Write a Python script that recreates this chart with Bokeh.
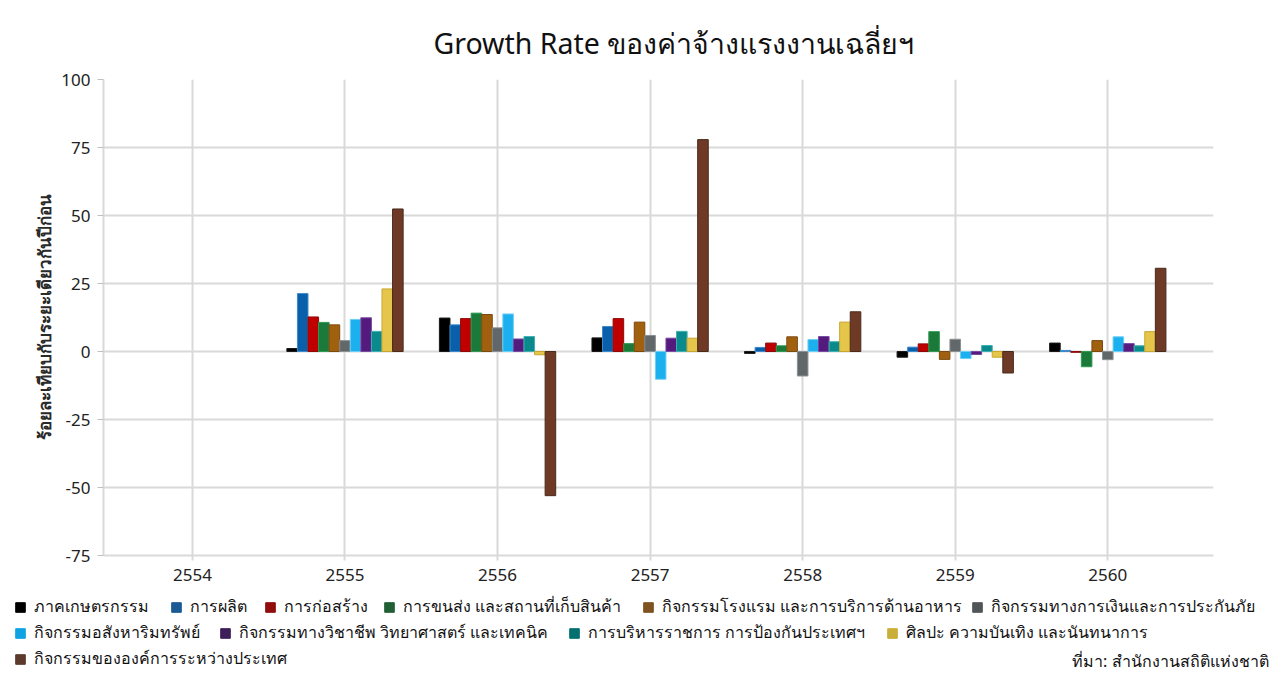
from bokeh.plotting import figure
from bokeh.models import (ColumnDataSource, FixedTicker, Legend, LegendItem,
                          Label, Range1d, Title)
from bokeh.transform import dodge
from bokeh.embed import file_html
from bokeh.resources import INLINE

nan = float("nan")

years = ["2554", "2555", "2556", "2557", "2558", "2559", "2560"]

agriculture      = [nan,  1.1,  12.3,   5.0,  -0.7, -2.1,  3.1]
manufacturing    = [nan, 21.3,   9.8,   9.2,   1.5,  1.6,  0.4]
construction     = [nan, 12.7,  12.1,  12.1,   3.1,  2.8, -0.3]
transport        = [nan, 10.7,  14.1,   2.9,   2.1,  7.3, -5.6]
hotel            = [nan,  9.8,  13.6,  10.8,   5.4, -2.9,  4.0]
finance          = [nan,  4.0,   8.7,   5.9,  -9.0,  4.5, -3.0]
real_estate      = [nan, 11.8,  13.8, -10.2,   4.4, -2.6,  5.4]
professional     = [nan, 12.4,   4.6,   4.9,   5.5, -1.1,  2.9]
public_admin     = [nan,  7.4,   5.5,   7.4,   3.6,  2.2,  2.1]
arts             = [nan, 23.0,  -1.2,   4.9,  10.8, -2.1,  7.3]
extraterritorial = [nan, 52.4, -53.0,  77.9,  14.6, -7.9, 30.6]

series_names = [
    "ภาคเกษตรกรรม",
    "การผลิต",
    "การก่อสร้าง",
    "การขนส่ง และสถานที่เก็บสินค้า",
    "กิจกรรมโรงแรม และการบริการด้านอาหาร",
    "กิจกรรมทางการเงินและการประกันภัย",
    "กิจกรรมอสังหาริมทรัพย์",
    "กิจกรรมทางวิชาชีพ วิทยาศาสตร์ และเทคนิค",
    "การบริหารราชการ การป้องกันประเทศฯ",
    "ศิลปะ ความบันเทิง และนันทนาการ",
    "กิจกรรมขององค์การระหว่างประเทศ",
]
series_values = [agriculture, manufacturing, construction, transport, hotel,
                 finance, real_estate, professional, public_admin, arts,
                 extraterritorial]
source_text = "ที่มา: สำนักงานสถิติแห่งชาติ"

y_ticks = [-75, -50, -25, 0, 25, 50, 75, 100]
y_tick_labels = ["-75", "-50", "-25", "0", "25", "50", "75", "100"]

# styles
fill_colors = ["#000000", "#0A5FAA", "#C00000", "#1B7A3A", "#A0600E", "#62686A",
               "#1CB0EE", "#551A7E", "#0A8A8C", "#E6C64A", "#6E3A26"]
line_colors = ["#1a1a1a", "#3C8ACB", "#8E0A0A", "#2E9A52", "#7C4A12", "#8A9093",
               "#70CFF4", "#7A4AA0", "#3FB0B0", "#C8A630", "#4A2A1A"]
legend_colors = ["#000000", "#1B5A93", "#8F0D0D", "#215F35", "#7E5320", "#505558",
                 "#0FA3E3", "#3D1E59", "#04706F", "#C9AE3A", "#5C3A2C"]
# legend layout (pixel positions of each swatch: left x, bottom y in strip)
legend_pos = [(14, 62), (170, 62), (264, 62), (383, 62), (642, 62), (971, 62),
              (14, 36), (219, 36), (568, 36), (886, 36),
              (14, 10)]
grid_color = "#d9d9d9"
FONT = "Noto Sans"
W = 1280
FRAME_L, FRAME_R, FRAME_T, FRAME_B = 103, 1213, 79, 555
MAIN_H, STRIP_H = 591, 90

n = len(series_names)
bar_w = 0.0693

p = figure(width=W, height=MAIN_H,
           x_range=Range1d(-0.583, 6.693), y_range=Range1d(-75, 100),
           output_backend="svg", toolbar_location=None,
           min_border_left=FRAME_L, min_border_right=W - FRAME_R,
           min_border_top=FRAME_T, min_border_bottom=MAIN_H - FRAME_B)
p.outline_line_color = None
p.background_fill_color = "white"
p.border_fill_color = "white"

p.add_layout(Title(text="Growth Rate ของค่าจ้างแรงงานเฉลี่ยฯ", align="left",
                   offset=330, text_font=FONT, text_font_size="28.5px",
                   text_font_style="normal", text_color="#111111",
                   standoff=35), "above")

for i, (name, vals) in enumerate(zip(series_names, series_values)):
    src = ColumnDataSource(dict(xi=list(range(len(years))), top=vals))
    p.vbar(x=dodge("xi", (i - (n - 1) / 2) * bar_w), top="top", bottom=0,
           width=bar_w, source=src,
           fill_color=fill_colors[i], line_color=line_colors[i], line_width=1)

# axes
p.xaxis.ticker = FixedTicker(ticks=list(range(len(years))))
p.xaxis.major_label_overrides = {i: y for i, y in enumerate(years)}
p.xaxis.major_label_text_font = FONT
p.xaxis.major_label_text_font_size = "17px"
p.xaxis.major_label_text_color = "#222222"
p.xaxis.major_label_standoff = 8
p.xaxis.axis_line_color = grid_color
p.xaxis.axis_line_width = 2
p.xaxis.major_tick_out = 5
p.xaxis.major_tick_in = 0
p.xaxis.major_tick_line_color = grid_color
p.xaxis.major_tick_line_width = 2
p.xaxis.minor_tick_line_color = None

p.yaxis.ticker = FixedTicker(ticks=y_ticks)
p.yaxis.major_label_overrides = dict(zip(y_ticks, y_tick_labels))
p.yaxis.major_label_text_font = FONT
p.yaxis.major_label_text_font_size = "17px"
p.yaxis.major_label_text_color = "#222222"
p.yaxis.major_label_standoff = 7
p.yaxis.axis_line_color = grid_color
p.yaxis.axis_line_width = 2
p.yaxis.major_tick_out = 6
p.yaxis.major_tick_in = 0
p.yaxis.major_tick_line_color = "#bfbfbf"
p.yaxis.minor_tick_line_color = None
p.yaxis.axis_label = "ร้อยละเทียบกับระยะเดียวกันปีก่อน"
p.yaxis.axis_label_text_font = FONT
p.yaxis.axis_label_text_font_size = "17px"
p.yaxis.axis_label_text_font_style = "bold"
p.yaxis.axis_label_text_color = "#2a2a2a"
p.yaxis.axis_label_standoff = 2

p.xgrid.ticker = FixedTicker(ticks=list(range(len(years))))
p.ygrid.ticker = FixedTicker(ticks=y_ticks)
for g in (p.xgrid, p.ygrid):
    g.grid_line_color = grid_color
    g.grid_line_width = 2

# legend strip below the chart (its own root, pixel coordinates, y up)
q = figure(width=W, height=STRIP_H, x_range=Range1d(0, W),
           y_range=Range1d(0, STRIP_H),
           output_backend="svg", toolbar_location=None,
           x_axis_type=None, y_axis_type=None,
           min_border_left=0, min_border_right=0,
           min_border_top=0, min_border_bottom=0)
q.outline_line_color = None
q.xgrid.visible = False
q.ygrid.visible = False

for i in range(n):
    sw = q.vbar(x=[nan], top=[nan], width=1, fill_color=legend_colors[i],
                line_color=legend_colors[i])
    lg = Legend(items=[LegendItem(label=series_names[i], renderers=[sw])],
                location=legend_pos[i],
                glyph_width=12, glyph_height=12, label_standoff=8,
                padding=0, margin=0, border_line_alpha=0,
                background_fill_alpha=0,
                label_text_font=FONT, label_text_font_size="16px",
                label_text_color="#111111", label_height=20)
    q.add_layout(lg, "center")

q.add_layout(Label(x=1268, y=21, text=source_text,
                   text_align="right", text_baseline="middle", text_font=FONT,
                   text_font_size="16px", text_color="#111111"))

open("out.html", "w").write(file_html([p, q], INLINE))
